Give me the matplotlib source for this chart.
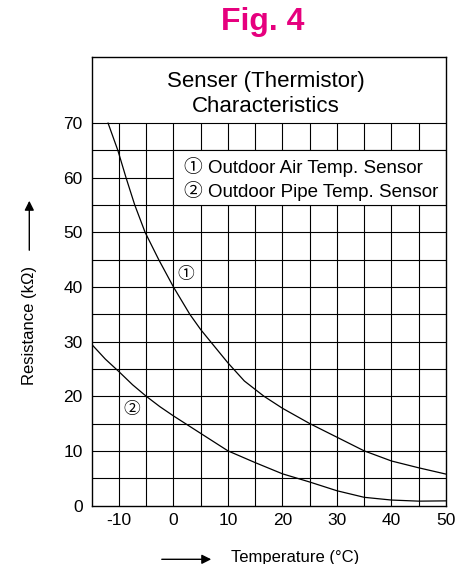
import numpy as np
import matplotlib.pyplot as plt
from matplotlib.patches import Rectangle

plt.rcParams['font.family'] = ['Liberation Sans', 'Noto Sans CJK JP', 'DejaVu Sans']
plt.rcParams['axes.unicode_minus'] = False

# curve 1: outdoor air temp sensor
air_temp = [-12, -10.2, -8.7, -7.1, -5.2, -2.7, 0, 3.0, 5, 6.8, 10, 13, 16.6, 20, 25, 30, 35, 40, 45, 50]
air_res = [70, 65, 60, 55, 50, 45, 40, 35, 32.2, 30, 26.1, 22.8, 20, 17.8, 15, 12.5, 10, 8.15, 6.9, 5.75]

# curve 2: outdoor pipe temp sensor
pipe_temp = [-15, -12.5, -10, -7.5, -5, -2.5, 0, 5, 10, 15, 20, 25, 30, 35, 40, 45, 50]
pipe_res = [29.5, 26.8, 24.5, 22.1, 20, 18.1, 16.4, 13.2, 10, 7.85, 5.8, 4.3, 2.7, 1.5, 1.0, 0.8, 0.85]

x_ticks = [-10, 0, 10, 20, 30, 40, 50]
y_ticks = [0, 10, 20, 30, 40, 50, 60, 70]
grid_x = np.arange(-10, 50, 5)
grid_y = np.arange(5, 75, 5)

title_lines = ['Senser (Thermistor)', 'Characteristics']
legend_lines = ['\u2460 Outdoor Air Temp. Sensor', '\u2461 Outdoor Pipe Temp. Sensor']


fig = plt.figure(figsize=(4.73, 5.64), dpi=100)
ax = fig.add_axes([0.1939, 0.1037, 0.749, 0.7952])
ax.set_xlim(-15, 50)
ax.set_ylim(0, 82.1)

# grid only below the title strip
ax.vlines(grid_x, 0, 70, colors='k', lw=0.8, zorder=1)
ax.hlines(grid_y, -15, 50, colors='k', lw=0.8, zorder=1)
# legend box blanks out the grid behind it
ax.add_patch(Rectangle((0, 55), 50, 10, facecolor='white', edgecolor='k', lw=0.8, zorder=2))

ax.plot(air_temp, air_res, color='k', lw=0.9, zorder=3)
ax.plot(pipe_temp, pipe_res, color='k', lw=0.9, zorder=3)

ax.text(2.27, 42.2, '\u2460', fontsize=12, ha='center', va='center', zorder=4)
ax.text(-7.75, 17.5, '\u2461', fontsize=12, ha='center', va='center', zorder=4)

ax.text(17, 77.6, title_lines[0], fontsize=16, ha='center', va='center')
ax.text(17, 73.0, title_lines[1], fontsize=16, ha='center', va='center')

ax.text(1.9, 62.0, legend_lines[0], fontsize=13.5, ha='left', va='center', zorder=4)
ax.text(1.9, 57.5, legend_lines[1], fontsize=13.5, ha='left', va='center', zorder=4)

ax.set_xticks(x_ticks)
ax.set_yticks(y_ticks)
ax.tick_params(axis='both', length=0, labelsize=12.5)
ax.tick_params(axis='y', pad=6.5)
ax.tick_params(axis='x', pad=5.5)
for s in ax.spines.values():
    s.set_linewidth(1)

fig.text(263 / 473, 1 - 21.7 / 564, 'Fig. 4', ha='center', va='center',
         fontsize=23, fontweight='bold', color='#e6007e')

# axis labels with their arrows
fig.text(29.5 / 473, 1 - 325 / 564, 'Resistance (k\u03a9)', rotation=90,
         ha='center', va='center', fontsize=12)
ax.annotate('', xy=(29.3 / 473, 1 - 198 / 564), xytext=(29.3 / 473, 1 - 253 / 564),
            xycoords='figure fraction', textcoords='figure fraction',
            arrowprops=dict(arrowstyle='-|>', color='k', lw=1, mutation_scale=14))

fig.text(231 / 473, 0.003, 'Temperature (\u00b0C)', ha='left', va='baseline', fontsize=12)
ax.annotate('', xy=(214 / 473, 1 - 559.3 / 564), xytext=(159 / 473, 1 - 559.3 / 564),
            xycoords='figure fraction', textcoords='figure fraction',
            arrowprops=dict(arrowstyle='-|>', color='k', lw=1, mutation_scale=14))

fig.savefig('out.png', dpi=100)
